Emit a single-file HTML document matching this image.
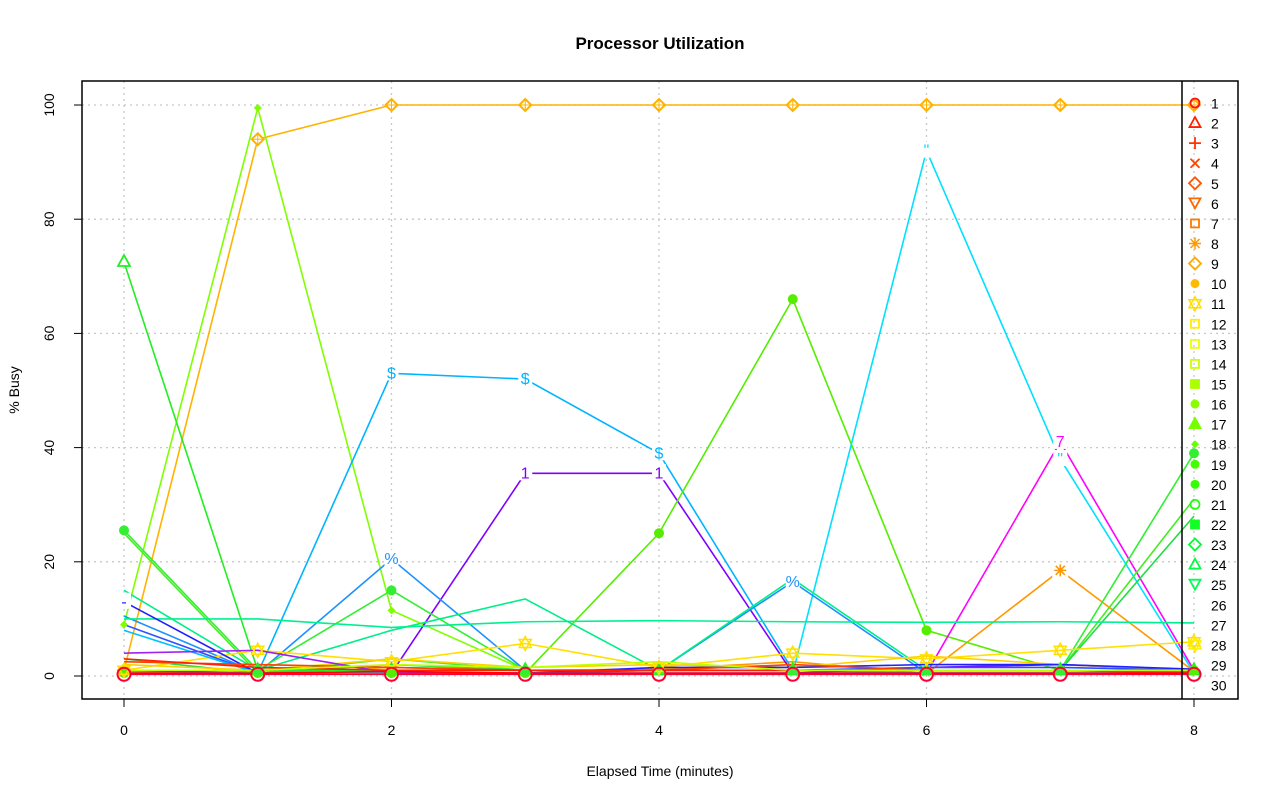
<!DOCTYPE html>
<html><head><meta charset="utf-8"><style>
body{margin:0;background:#fff;}
svg{display:block;font-family:"Liberation Sans",sans-serif;}
</style></head><body>
<svg id="s" width="1280" height="801" xmlns="http://www.w3.org/2000/svg">
<rect width="1280" height="801" fill="#fff"/>
<text x="660" y="49" text-anchor="middle" font-size="17" font-weight="bold">Processor Utilization</text>
<text x="660" y="776" text-anchor="middle" font-size="14">Elapsed Time (minutes)</text>
<text transform="translate(19,390) rotate(-90)" text-anchor="middle" font-size="14">% Busy</text>
<g id="grid" stroke="#c8c8c8" stroke-dasharray="2,4" stroke-width="1.3"></g>
<g id="lines" fill="none" stroke-width="1.6"></g>
<g id="marks"></g>
<g id="axes"></g>
<g id="legend" font-size="14"></g>
</svg>
<script>
const NS="http://www.w3.org/2000/svg";
const X=t=>124+133.75*t, Y=v=>676-5.71*v;
function el(p,tag,a,txt){const e=document.createElementNS(NS,tag);for(const k in a)e.setAttribute(k,a[k]);if(txt!==undefined)e.textContent=txt;document.getElementById(p).appendChild(e);return e;}
for(let t=0;t<=8;t+=2)el('grid','line',{x1:X(t),x2:X(t),y1:81,y2:699});
for(let v=0;v<=100;v+=20)el('grid','line',{x1:82,x2:1238,y1:Y(v),y2:Y(v)});
el('axes','rect',{x:82,y:81,width:1156,height:618,fill:'none',stroke:'#000','stroke-width':1.5});
el('axes','line',{x1:1182,x2:1182,y1:81,y2:699,stroke:'#000','stroke-width':1.5});
for(let t=0;t<=8;t+=2){el('axes','line',{x1:X(t),x2:X(t),y1:699,y2:707,stroke:'#000'});el('axes','text',{x:X(t),y:735,'text-anchor':'middle','font-size':14},t);}
for(let v=0;v<=100;v+=20){el('axes','line',{x1:74,x2:82,y1:Y(v),y2:Y(v),stroke:'#000'});el('axes','text',{transform:`translate(54,${Y(v)}) rotate(-90)`,'text-anchor':'middle','font-size':14},v);}
const S=[
['#ff9800',[0.8,0.4,1.5,1,1.2,2.5,0.4,18.5,0.8],'*'],
['#ffb300',[1,94,100,100,100,100,100,100,100],'d'],
['#80ff00',[9,99.5,11.5,1,1,1,1,1,1],'sd'],
['#22ee22',[72.5,1,1,1,1,1,1,1,1],'tri'],
['#00b4ff',[1,0.5,53,52,39,1,0.5,0.5,0.5],'$'],
['#8000ff',[1,0.5,0.5,35.5,35.5,0.5,1.5,2,1],'1'],
['#55ee00',[0.5,0.5,0.5,0.5,25,66,8,1,1],'c'],
['#00e0ff',[0.5,0.5,0.5,0.5,0.5,0.5,92,38,0.5],'"'],
['#ff00ff',[0.5,0.5,0.5,0.5,0.5,0.5,0.5,41,1],'7'],
['#1e90ff',[10.5,0.5,20.5,1,1,16.5,0.5,0.5,0.5],'%'],
['#33ee33',[25.5,1,15,1,1,1,1,1,39],'c'],
['#44ee22',[25,0.5,3,1,1,1,1,1,31],''],
['#22dd44',[3,0.5,2,1,1,1,1,1,28],''],
['#00f090',[10,10,8.5,9.5,9.7,9.5,9.4,9.5,9.3],''],
['#00ee88',[15,1,8,13.5,1,17,1,1,1],''],
['#ffe000',[1,4.5,2.5,5.7,1.5,4,3,4.5,6],'st'],
['#ffd000',[2,1,3,1.5,2,1.5,3.5,2,1],''],
['#2020ff',[13,0.5,0.5,0.5,1.5,1.5,2,2,1.2],'-'],
['#3050ff',[9,0.5,0.5,0.5,1,1,1.5,1.5,1],''],
['#00c0ff',[8,0.5,0.5,0.5,0.5,0.5,0.5,0.5,0.5],''],
['#a020f0',[4,4.5,0.5,0.5,0.5,0.5,0.5,0.5,0.5],''],
['#ff4000',[2.5,2,1.5,1,1,2,1,1,0.8],''],
['#ff2000',[3,1.5,1,1,1,1,1,1,0.5],''],
['#ff0030',[0.3,0.3,0.3,0.3,0.3,0.3,0.3,0.3,0.3],'o'],
['#ff0000',[0.5,0.5,0.8,0.5,0.5,0.5,0.5,0.5,0.5],''],
['#c0ff00',[1,1,2,1.5,2.5,1,1,1,1],''],
];
S.forEach(([c,d,m])=>{
 el('lines','polyline',{points:d.map((v,i)=>X(i)+','+Y(v)).join(' '),stroke:c});
});
function mark(c,x,y,m){
 if(m==='d'){el('marks','polygon',{points:`${x},${y-6} ${x+6},${y} ${x},${y+6} ${x-6},${y}`,fill:'#fff',stroke:c,'stroke-width':2});el('marks','line',{x1:x-6,x2:x+6,y1:y,y2:y,stroke:c});el('marks','line',{x1:x,x2:x,y1:y-6,y2:y+6,stroke:c});}
 else if(m==='sd'){el('marks','polygon',{points:`${x},${y-4} ${x+4},${y} ${x},${y+4} ${x-4},${y}`,fill:c});}
 else if(m==='c'){el('marks','circle',{cx:x,cy:y,r:5,fill:c});}
 else if(m==='o'){el('marks','circle',{cx:x,cy:y,r:6.5,fill:'none',stroke:c,'stroke-width':2});}
 else if(m==='tri'){el('marks','polygon',{points:`${x},${y-7} ${x+6},${y+4} ${x-6},${y+4}`,fill:'#fff',stroke:c,'stroke-width':1.8});}
 else if(m==='st'){el('marks','polygon',{points:`${x},${y-7} ${x+6},${y+4} ${x-6},${y+4}`,fill:'none',stroke:c,'stroke-width':1.5});el('marks','polygon',{points:`${x},${y+7} ${x+6},${y-4} ${x-6},${y-4}`,fill:'none',stroke:c,'stroke-width':1.5});}
 else if(m==='*'){el('marks','rect',{x:x-8,y:y-8,width:16,height:16,fill:'#fff'});el('marks','path',{d:`M${x-6} ${y}H${x+6}M${x} ${y-6}V${y+6}M${x-4.5} ${y-4.5}L${x+4.5} ${y+4.5}M${x-4.5} ${y+4.5}L${x+4.5} ${y-4.5}`,stroke:c,'stroke-width':1.6});}
 else if(m){el('marks','rect',{x:x-7,y:y-9,width:14,height:16,fill:'#fff'});el('marks','text',{x:x,y:y+5,'text-anchor':'middle','font-size':16,fill:c},m);}
}
S.forEach(([c,d,m])=>{d.forEach((v,i)=>{ if(!m)return; if(['$','1','"','7','%','*','-'].includes(m)&&v<3)return; if(m==='%'&&i===0)return; mark(c,X(i),Y(v),m);});});
const LC=['#ff1010','#ff2000','#ff3300','#ff4400','#ff5500','#ff6600','#ff7a00','#ff9900','#ffaa00','#ffbb00','#ffdd00','#ffee00','#eeff00','#ccff00','#aaff00','#88ff00','#77ff00','#66ff00','#44ff00','#33ff00','#22ff11','#11ff22','#00ff33','#00ff44','#00ff55','','','#ffee00','',''];
const LM=['o','tri','+','x','d','v','sq','*','d','c','st','sq','sq','sq','sq','c','tri','sd','c','c','o','sq','d','tri','v','','','st','',''];
for(let i=0;i<30;i++){
 const y=103+20.07*i,x=1195,c=LC[i],m=LM[i];
 el('legend','text',{x:1211,y:y+5.5},i+1);
 if(!m)continue;
 if(m==='o')el('legend','circle',{cx:x,cy:y,r:4.5,fill:'none',stroke:c,'stroke-width':1.8});
 else if(m==='tri')el('legend','polygon',{points:`${x},${y-6} ${x+5.5},${y+4} ${x-5.5},${y+4}`,fill:i===16?c:'none',stroke:c,'stroke-width':1.8});
 else if(m==='v')el('legend','polygon',{points:`${x},${y+5} ${x+5.5},${y-5} ${x-5.5},${y-5}`,fill:'none',stroke:c,'stroke-width':1.8});
 else if(m==='+'){el('legend','path',{d:`M${x-6} ${y}H${x+6}M${x} ${y-6}V${y+6}`,stroke:c,'stroke-width':1.8});}
 else if(m==='x'){el('legend','path',{d:`M${x-4.5} ${y-4.5}L${x+4.5} ${y+4.5}M${x-4.5} ${y+4.5}L${x+4.5} ${y-4.5}`,stroke:c,'stroke-width':1.8});}
 else if(m==='*'){el('legend','path',{d:`M${x-6} ${y}H${x+6}M${x} ${y-6}V${y+6}M${x-4.5} ${y-4.5}L${x+4.5} ${y+4.5}M${x-4.5} ${y+4.5}L${x+4.5} ${y-4.5}`,stroke:c,'stroke-width':1.5});}
 else if(m==='sq')el('legend','rect',{x:x-4,y:y-4,width:8,height:8,fill:i<14?'none':c,stroke:c,'stroke-width':1.8});
 else if(m==='c')el('legend','circle',{cx:x,cy:y,r:4.5,fill:c});
 else if(m==='sd')el('legend','polygon',{points:`${x},${y-4} ${x+4},${y} ${x},${y+4} ${x-4},${y}`,fill:c});
 else if(m==='d')el('legend','polygon',{points:`${x},${y-6} ${x+6},${y} ${x},${y+6} ${x-6},${y}`,fill:'none',stroke:c,'stroke-width':1.8});
 else if(m==='st'){el('legend','polygon',{points:`${x},${y-7} ${x+6},${y+4} ${x-6},${y+4}`,fill:'none',stroke:c,'stroke-width':1.5});el('legend','polygon',{points:`${x},${y+7} ${x+6},${y-4} ${x-6},${y-4}`,fill:'none',stroke:c,'stroke-width':1.5});}
}
</script>
</body></html>
